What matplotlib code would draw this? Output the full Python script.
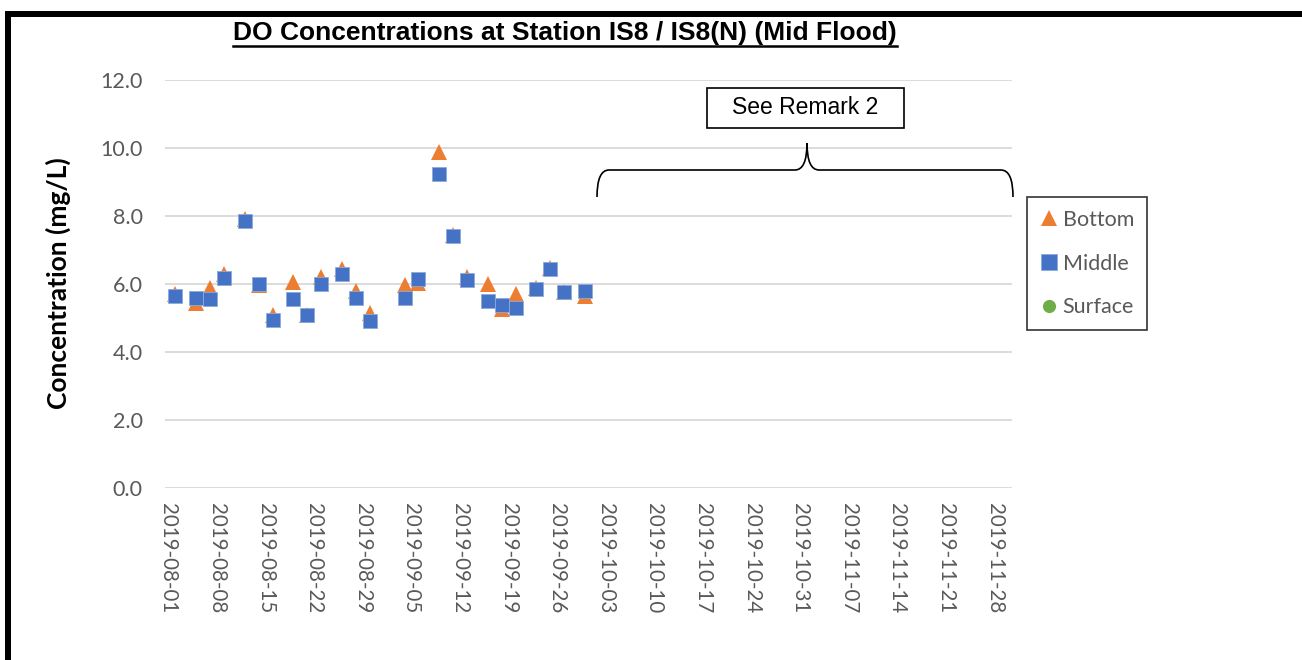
"""
DO concentrations at Station IS8 / IS8(N), mid flood - scatter by depth.
"""
import matplotlib
matplotlib.use("Agg")

import matplotlib.pyplot as plt
import matplotlib.dates as mdates
import numpy as np
import pandas as pd
from matplotlib.lines import Line2D
from matplotlib.patches import PathPatch, Rectangle
from matplotlib.path import Path
from matplotlib.transforms import Affine2D

# ---------------------------------------------------------------------------
# Data
# ---------------------------------------------------------------------------
dates = [
    "2019-08-02", "2019-08-05", "2019-08-07", "2019-08-09", "2019-08-12",
    "2019-08-14", "2019-08-16", "2019-08-19", "2019-08-21", "2019-08-23",
    "2019-08-26", "2019-08-28", "2019-08-30", "2019-09-04", "2019-09-06",
    "2019-09-09", "2019-09-11", "2019-09-13", "2019-09-16", "2019-09-18",
    "2019-09-20", "2019-09-23", "2019-09-25", "2019-09-27", "2019-09-30",
]
bottom = [5.72, 5.44, 5.88, 6.30, 7.90, 5.97, 5.09, 6.05, 5.09, 6.20,
          6.43, 5.80, 5.16, 5.97, 6.03, 9.89, 7.44, 6.22, 6.00, 5.26,
          5.72, 5.89, 6.46, 5.77, 5.64]
middle = [5.66, 5.58, 5.56, 6.17, 7.86, 5.99, 4.94, 5.55, 5.10, 5.99,
          6.29, 5.60, 4.92, 5.58, 6.15, 9.23, 7.41, 6.12, 5.51, 5.39,
          5.29, 5.86, 6.44, 5.77, 5.80]
surface_dates = []
surface = []

tick_start, tick_end = "2019-08-01", "2019-11-28"
y_ticks = [0, 2, 4, 6, 8, 10, 12]

title = "DO Concentrations at Station IS8 / IS8(N) (Mid Flood)"
ylabel = "Concentration (mg/L)"
remark = "See Remark 2"

# ---------------------------------------------------------------------------
# Styling
# ---------------------------------------------------------------------------
W, H = 1302, 660
ORANGE = "#ED7D31"
BLUE = "#4472C4"
GREEN = "#70AD47"
GRID = "#D9D9D9"
TICK = "#595959"
UI_FONT = ["Lato", "DejaVu Sans"]
ARIAL = ["Liberation Sans", "DejaVu Sans"]

fig = plt.figure(figsize=(W / 100, H / 100), dpi=100)
fig.patch.set_facecolor("white")

# pixel -> figure transform (origin at top-left)
px = Affine2D().scale(1 / W, -1 / H).translate(0, 1) + fig.transFigure

ax = fig.add_axes([165 / W, 1 - 488 / H, (1012 - 165) / W, (488 - 80) / H])

x_bottom = pd.to_datetime(dates)
x_surface = pd.to_datetime(surface_dates)

ax.plot(x_bottom, bottom, linestyle="none", marker="^", markersize=11,
        color=ORANGE, markeredgewidth=0, label="Bottom", zorder=3)
ax.plot(x_bottom, middle, linestyle="none", marker="s", markersize=10.5,
        color=BLUE, markeredgecolor="#8FAADC", markeredgewidth=0.6,
        label="Middle", zorder=4)
ax.plot(x_surface, surface, linestyle="none", marker="o", markersize=9,
        color=GREEN, markeredgewidth=0, label="Surface", zorder=5)

# axes ranges / ticks
ax.set_xlim(pd.Timestamp("2019-07-31 12:00"), pd.Timestamp("2019-11-30 12:00"))
ax.set_ylim(0, 12)
ax.set_yticks(y_ticks)
ax.set_yticklabels([f"{v:.1f}" for v in y_ticks])
ax.set_xticks(pd.date_range(tick_start, tick_end, freq="7D"))
ax.xaxis.set_major_formatter(mdates.DateFormatter("%Y-%m-%d"))

ax.tick_params(axis="both", length=0, colors=TICK)
ax.tick_params(axis="y", pad=16, labelsize=15.5)
ax.tick_params(axis="x", pad=11, labelsize=14.8, labelrotation=270)
for lbl in ax.get_xticklabels() + ax.get_yticklabels():
    lbl.set_family(UI_FONT)
for lbl in ax.get_xticklabels():
    lbl.set_verticalalignment("top")
    lbl.set_horizontalalignment("center")

ax.grid(axis="y", color=GRID, linewidth=1.3)
ax.set_axisbelow(True)
for s in ax.spines.values():
    s.set_visible(False)

fig.text(58 / W, 1 - 283 / H, ylabel, rotation=90, ha="center", va="center",
         fontsize=19, fontweight="bold", family=UI_FONT, color="black")

# title with underline
t = fig.text(565 / W, 1 - 33 / H, title, ha="center", va="center",
             fontsize=19, fontweight="bold", family=ARIAL, color="black")
fig.canvas.draw()
bb = t.get_window_extent()
fig.add_artist(Line2D([bb.x0 / W, bb.x1 / W], [(bb.y0 - 1) / H] * 2,
                      transform=fig.transFigure, color="black", linewidth=1.8))

# outer frame (top and left bars)
fig.add_artist(Rectangle((5, 11), W - 5, 6, transform=px, color="black", lw=0))
fig.add_artist(Rectangle((5, 11), 6, H - 11, transform=px, color="black", lw=0))

# remark box
fig.text(805.5 / W, 1 - 108 / H, remark, ha="center", va="center",
         fontsize=16.5, family=ARIAL, color="black")
fig.add_artist(Rectangle((707, 88), 197, 40, transform=px, fill=False,
                         edgecolor="black", linewidth=1.2))

# curly brace
L, R, C = 597, 1013, 807
y_end, y_mid, y_tip = 197, 170, 143
verts = [
    (L, y_end), (L, y_mid), (L + 12, y_mid),
    (C - 12, y_mid), (C, y_mid), (C, y_tip),
    (C, y_mid), (C + 12, y_mid),
    (R - 12, y_mid), (R, y_mid), (R, y_end),
]
codes = [
    Path.MOVETO, Path.CURVE3, Path.CURVE3,
    Path.LINETO, Path.CURVE3, Path.CURVE3,
    Path.CURVE3, Path.CURVE3,
    Path.LINETO, Path.CURVE3, Path.CURVE3,
]
fig.add_artist(PathPatch(Path(verts, codes), transform=px, fill=False,
                         edgecolor="black", linewidth=1.2))

# legend
leg = ax.legend(loc="upper left", bbox_to_anchor=(1027 / W, 1 - 197 / H),
                bbox_transform=fig.transFigure, frameon=True, fancybox=False,
                edgecolor="black", prop={"family": UI_FONT, "size": 15.5},
                handlelength=0.8, handletextpad=0.25, labelspacing=1.1,
                borderpad=0.6, borderaxespad=0, markerscale=1.05)
leg.get_frame().set_linewidth(1.2)
for txt in leg.get_texts():
    txt.set_color(TICK)

fig.savefig("out.png", dpi=100, facecolor="white")
